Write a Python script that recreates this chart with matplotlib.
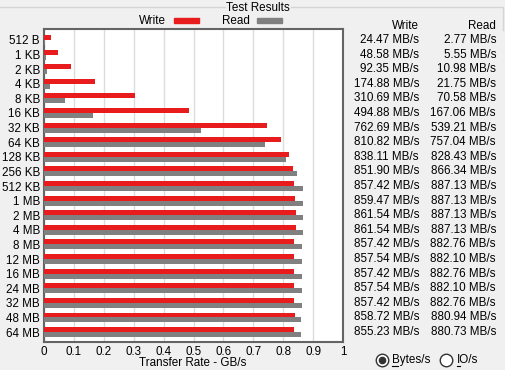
import numpy as np
import matplotlib
matplotlib.use("Agg")
import matplotlib.pyplot as plt
from matplotlib.lines import Line2D
from matplotlib.patches import Rectangle
from matplotlib.transforms import blended_transform_factory

sizes = ['512 B', '1 KB', '2 KB', '4 KB', '8 KB', '16 KB', '32 KB', '64 KB',
         '128 KB', '256 KB', '512 KB', '1 MB', '2 MB', '4 MB', '8 MB',
         '12 MB', '16 MB', '24 MB', '32 MB', '48 MB', '64 MB']
write_mb = [24.47, 48.58, 92.35, 174.88, 310.69, 494.88, 762.69, 810.82,
            838.11, 851.90, 857.42, 859.47, 861.54, 861.54, 857.42,
            857.54, 857.42, 857.54, 857.42, 858.72, 855.23]
read_mb = [2.77, 5.55, 10.98, 21.75, 70.58, 167.06, 539.21, 757.04,
           828.43, 866.34, 887.13, 887.13, 887.13, 887.13, 882.76,
           882.10, 882.76, 882.10, 882.76, 880.94, 880.73]
xticks = [0, 0.1, 0.2, 0.3, 0.4, 0.5, 0.6, 0.7, 0.8, 0.9, 1]
xtick_labels = ['0', '0.1', '0.2', '0.3', '0.4', '0.5', '0.6', '0.7', '0.8', '0.9', '1']

W, H = 505, 370
bg = '#f0f0f0'
red = '#e81c1c'
gray = '#808080'
fs = 8.4

plt.rcParams['font.family'] = 'Liberation Sans'

fig = plt.figure(figsize=(W / 100, H / 100), dpi=100, facecolor=bg)

def fx(px):
    return px / W

def fy(py):
    return 1 - py / H

ax = fig.add_axes([fx(44), fy(342.3), fx(343) - fx(44), (342.3 - 29.3) / H])
ax.set_facecolor('white')

y = np.arange(len(sizes))
bh = 0.34
write_gb = np.array(write_mb) / 1024
read_gb = np.array(read_mb) / 1024
ax.barh(y - bh / 2, write_gb, height=bh, color=red, zorder=3)
ax.barh(y + bh / 2, read_gb, height=bh, color=gray, zorder=3)

ax.set_xlim(0, 1)
ax.set_ylim(20.7, -0.73)
ax.set_xticks(xticks)
ax.set_xticklabels(xtick_labels, fontsize=fs)
ax.set_yticks(y)
ax.set_yticklabels(sizes, fontsize=fs)
ax.tick_params(length=0, pad=3)
ax.grid(axis='x', color='#dcdcdc', linewidth=1, zorder=0)
for s in ax.spines.values():
    s.set_color('#646464')
    s.set_linewidth(1.5)
fig.text(fx(193), fy(363), 'Transfer Rate - GB/s', ha='center', va='center', fontsize=fs)

# group box with title
fig.add_artist(Line2D([fx(0), fx(225)], [fy(7), fy(7)], color='#d5d5d5', lw=1))
fig.add_artist(Line2D([fx(291), fx(503), fx(503)], [fy(7), fy(7), fy(30)], color='#d5d5d5', lw=1))
fig.text(fx(258), fy(8), 'Test Results', ha='center', va='center', fontsize=fs)

# legend
fig.text(fx(166), fy(21), 'Write', ha='right', va='center', fontsize=fs)
fig.add_artist(Rectangle((fx(174), fy(23)), fx(25), 5 / H, color=red))
fig.text(fx(250), fy(21), 'Read', ha='right', va='center', fontsize=fs)
fig.add_artist(Rectangle((fx(257), fy(23)), fx(25), 5 / H, color=gray))

# value columns
fig.text(fx(419), fy(26), 'Write', ha='right', va='center', fontsize=fs)
fig.text(fx(496), fy(26), 'Read', ha='right', va='center', fontsize=fs)
tr = blended_transform_factory(fig.transFigure, ax.transData)
for i in range(len(sizes)):
    fig.text(fx(419), i, f'{write_mb[i]:.2f} MB/s', ha='right', va='center', fontsize=fs, transform=tr)
    fig.text(fx(496), i, f'{read_mb[i]:.2f} MB/s', ha='right', va='center', fontsize=fs, transform=tr)

# radio buttons
fig.add_artist(Line2D([fx(382)], [fy(360)], marker='o', markersize=9, markerfacecolor='white',
                      markeredgecolor='#333333', markeredgewidth=1, linestyle='none'))
fig.add_artist(Line2D([fx(382)], [fy(360)], marker='o', markersize=4.5, color='#333333', linestyle='none'))
fig.text(fx(392), fy(360), 'Bytes/s', ha='left', va='center', fontsize=fs)
fig.add_artist(Line2D([fx(392), fx(398)], [fy(366), fy(366)], color='black', lw=0.8))
fig.add_artist(Line2D([fx(446)], [fy(360)], marker='o', markersize=9, markerfacecolor='white',
                      markeredgecolor='#333333', markeredgewidth=1, linestyle='none'))
fig.text(fx(457), fy(360), 'IO/s', ha='left', va='center', fontsize=fs)
fig.add_artist(Line2D([fx(457), fx(460)], [fy(366), fy(366)], color='black', lw=0.8))

fig.savefig('out.png', dpi=100, facecolor=bg)
